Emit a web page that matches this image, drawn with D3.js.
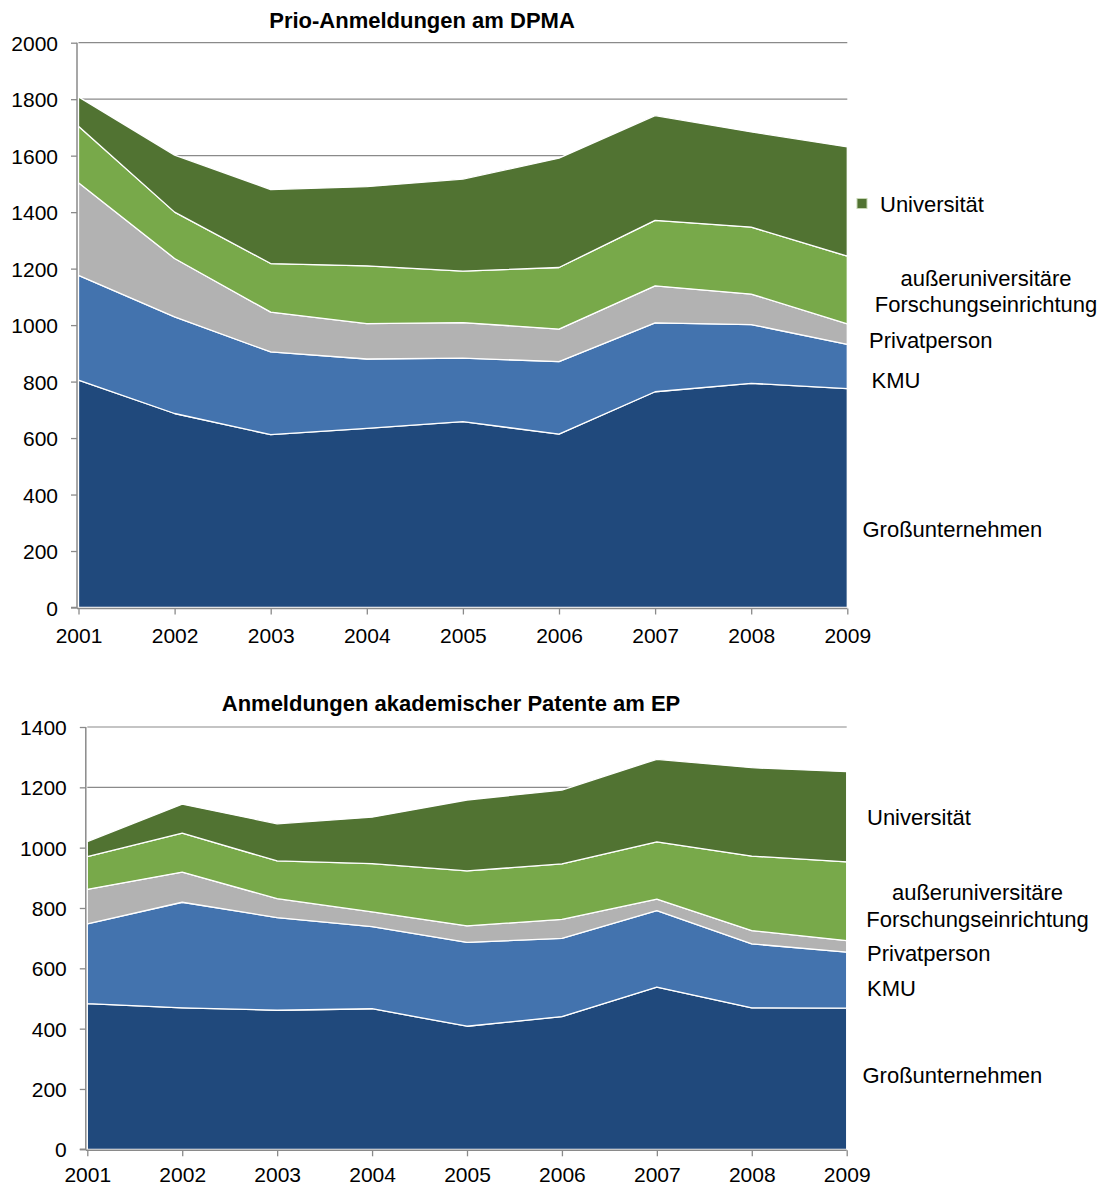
<!DOCTYPE html>
<html><head><meta charset="utf-8">
<script src="https://cdn.jsdelivr.net/npm/d3@7"></script>
<style>
html,body{margin:0;padding:0;background:#fff;}
text{font-family:"Liberation Sans",Arial,sans-serif;fill:#000;}
</style></head>
<body><svg id="c" width="1101" height="1186"></svg>
<script>
// ---- data ----
const years = [2001,2002,2003,2004,2005,2006,2007,2008,2009];
const seriesNames = ["Großunternehmen","KMU","Privatperson","außeruniversitäre Forschungseinrichtung","Universität"];

const dpmaTitle = "Prio-Anmeldungen am DPMA";
const dpmaGross   = [805,687,612,634,658,614,764,794,775];
const dpmaKMU     = [371,342,293,246,225,257,244,208,157];
const dpmaPrivat  = [328,207,141,125,126,115,131,108,72];
const dpmaForsch  = [200,164,172,205,182,218,232,237,240];
const dpmaUni     = [104,202,262,280,326,387,371,337,387];
const dpmaTicks   = [0,200,400,600,800,1000,1200,1400,1600,1800,2000];

const epTitle = "Anmeldungen akademischer Patente am EP";
const epGross   = [483,469,461,466,408,440,538,469,468];
const epKMU     = [264,350,307,272,278,259,253,212,186];
const epPrivat  = [115,100,63,49,55,63,38,44,38];
const epForsch  = [108,129,125,160,182,184,190,247,261];
const epUni     = [50,96,123,154,235,245,274,293,299];
const epTicks   = [0,200,400,600,800,1000,1200,1400];

// ---- styles ----
const colors = ["#20497C","#4373AE","#B2B2B2","#78A94A","#517332"];
const axisColor = "#8A8A8A";

const svg = d3.select("#c");

function drawChart(cfg){
  const rows = years.map((y,i)=>{
    const o={year:y};
    seriesNames.forEach((k,j)=>o[k]=cfg.series[j][i]);
    return o;
  });
  const stacked = d3.stack().keys(seriesNames)(rows);
  const x = d3.scalePoint().domain(years).range([cfg.left,cfg.right]);
  const y = d3.scaleLinear().domain([0,d3.max(cfg.ticks)]).range([cfg.bottom,cfg.top]);
  const g = svg.append("g");

  // gridlines
  g.append("g").selectAll("line").data(cfg.ticks.filter(t=>t>0)).join("line")
    .attr("x1",cfg.left).attr("x2",cfg.right)
    .attr("y1",d=>y(d)).attr("y2",d=>y(d))
    .attr("stroke",axisColor).attr("stroke-width",1.2);

  const area = d3.area().x(d=>x(d.data.year)).y0(d=>y(d[0])).y1(d=>y(d[1]));
  g.append("g").selectAll("path").data(stacked).join("path")
    .attr("d",area).attr("fill",(d,i)=>colors[i])
    .attr("stroke","#fff").attr("stroke-width",1.3).attr("stroke-linejoin","round");

  // y axis
  const ya = d3.axisLeft(y).tickValues(cfg.ticks).tickSize(6).tickPadding(13).tickFormat(d3.format("d"));
  const yg = g.append("g").attr("transform",`translate(${cfg.left-1.5},0)`).call(ya);
  yg.select(".domain").attr("stroke",axisColor).attr("stroke-width",1.5).attr("d",`M-6,${y(0)}H0V${cfg.top}`);
  yg.selectAll(".tick line").attr("stroke",axisColor).attr("stroke-width",1.3);
  yg.selectAll("text").attr("font-size",21).attr("dy","0.36em");

  // x axis
  const xa = d3.axisBottom(x).tickSize(6).tickFormat(d3.format("d"));
  const xg = g.append("g").attr("transform",`translate(0,${cfg.bottom})`).call(xa);
  xg.select(".domain").attr("stroke",axisColor).attr("stroke-width",1.5).attr("d",`M${cfg.left-1.5},1H${cfg.right}`);
  xg.selectAll(".tick line").attr("stroke",axisColor).attr("stroke-width",1.3).attr("y1",1).attr("y2",7);
  xg.selectAll("text").attr("font-size",21).attr("y",cfg.xLabelOffset).attr("dy",0);

  // title
  g.append("text").attr("x",cfg.titleX).attr("y",cfg.titleY).attr("text-anchor","middle")
    .attr("font-size",22).attr("font-weight","bold").text(cfg.title);

  // series labels
  cfg.labels.forEach((L,i)=>{
    const name = seriesNames[L.idx];
    if(L.twoLine){
      const parts = name.split(" ");
      const t = g.append("text").attr("font-size",22).attr("text-anchor","middle");
      t.append("tspan").attr("x",L.x).attr("y",L.y).text(parts[0]);
      t.append("tspan").attr("x",L.x).attr("y",L.y+L.lh).text(parts[1]);
    } else {
      g.append("text").attr("x",L.x).attr("y",L.y).attr("font-size",22).text(name);
    }
    if(L.swatch){
      g.append("rect").attr("x",L.swatch[0]).attr("y",L.swatch[1]).attr("width",10).attr("height",10)
        .attr("fill",colors[L.idx]).attr("stroke","#C7D7B5").attr("stroke-width",1);
    }
  });
}

drawChart({
  series:[dpmaGross,dpmaKMU,dpmaPrivat,dpmaForsch,dpmaUni], ticks:dpmaTicks, title:dpmaTitle,
  left:78.5, right:847.3, top:42.7, bottom:607.5, titleX:422, titleY:28, xLabelOffset:35.5,
  labels:[
    {idx:4,x:880,y:212,swatch:[857,198.5]},
    {idx:3,x:986,y:286,lh:25.5,twoLine:true},
    {idx:2,x:869,y:348},
    {idx:1,x:871.5,y:388},
    {idx:0,x:862.5,y:537}
  ]
});
drawChart({
  series:[epGross,epKMU,epPrivat,epForsch,epUni], ticks:epTicks, title:epTitle,
  left:87.3, right:846.7, top:727, bottom:1149.3, titleX:451, titleY:711, xLabelOffset:32.5,
  labels:[
    {idx:4,x:867,y:825},
    {idx:3,x:977.5,y:900,lh:26.5,twoLine:true},
    {idx:2,x:867,y:961},
    {idx:1,x:867,y:996},
    {idx:0,x:862.5,y:1083}
  ]
});
</script></body></html>
